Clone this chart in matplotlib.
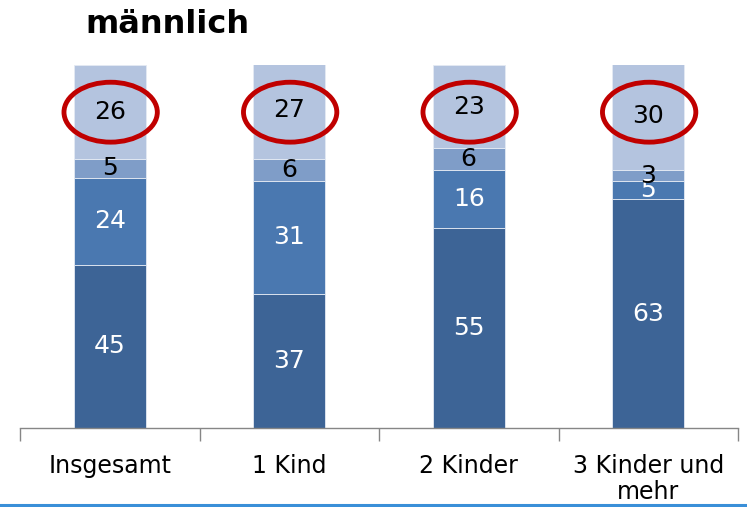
import matplotlib
matplotlib.use("Agg")
import matplotlib.pyplot as plt
from matplotlib.patches import Ellipse
from matplotlib.lines import Line2D
import numpy as np

categories = ["Insgesamt", "1 Kind", "2 Kinder", "3 Kinder und\nmehr"]
seg1 = [45, 37, 55, 63]
seg2 = [24, 31, 16, 5]
seg3 = [5, 6, 6, 3]
seg4 = [26, 27, 23, 30]
series = [seg1, seg2, seg3, seg4]
colors = ["#3D6496", "#4A78B0", "#7F9DC8", "#B4C4DF"]
text_colors = ["white", "white", "black", "black"]
title = "männlich"

W, H = 747, 507
fig = plt.figure(figsize=(W / 100, H / 100), dpi=100)
ax = fig.add_axes([20 / W, 1 - 428 / H, (738 - 20) / W, (428 - 65) / H])

x = np.arange(len(categories))
bottom = np.zeros(len(categories))
for vals, c, tc in zip(series, colors, text_colors):
    vals = np.array(vals, dtype=float)
    ax.bar(x, vals, width=0.4, bottom=bottom, color=c, edgecolor="#E4EAF3",
           linewidth=0.6)
    for xi, b, v in zip(x, bottom, vals):
        ax.text(xi, b + v / 2, f"{int(v)}", ha="center", va="center",
                fontsize=18, color=tc)
    bottom += vals

# red ellipses around top values
for xi in x:
    ax.add_patch(Ellipse((xi + 0.005, 87), width=0.52, height=16.5,
                         fill=False, edgecolor="#C00000", linewidth=3.5,
                         clip_on=False, zorder=5))

ax.set_xlim(-0.5, 3.5)
ax.set_ylim(0, 100)
for s in ["top", "right", "left"]:
    ax.spines[s].set_visible(False)
ax.spines["bottom"].set_color("#868686")
ax.spines["bottom"].set_linewidth(1.0)
ax.set_yticks([])
ax.set_xticks(x)
ax.set_xticklabels(categories, fontsize=17, linespacing=1.1)
ax.set_xticks(np.arange(-0.5, 4.0, 1.0), minor=True)
ax.tick_params(axis="x", which="major", length=0, pad=19)
ax.tick_params(axis="x", which="minor", length=9, color="#868686", width=1.0)

fig.text(85 / W, 1 - 33 / H, title, fontsize=23, fontweight="bold",
         ha="left", va="baseline")

fig.add_artist(Line2D([0, 1], [1 - 505 / H, 1 - 505 / H], color="#3A8FD8",
                      linewidth=2.2, transform=fig.transFigure))

fig.savefig("out.png", dpi=100)
